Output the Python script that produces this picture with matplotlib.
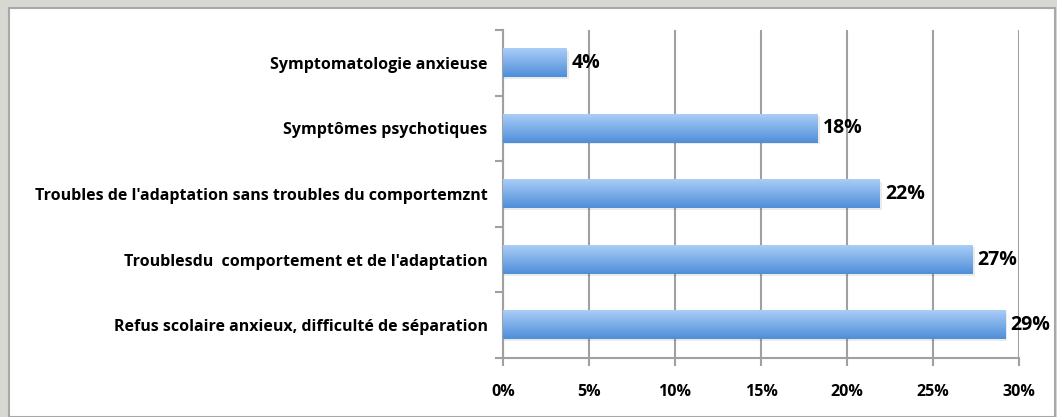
import numpy as np
import matplotlib.pyplot as plt
from matplotlib.patches import Rectangle
from matplotlib.colors import LinearSegmentedColormap

plt.rcParams['font.family'] = ['Open Sans', 'DejaVu Sans']

categories = [
    "Refus scolaire anxieux, difficulté de séparation",
    "Troublesdu  comportement et de l'adaptation",
    "Troubles de l'adaptation sans troubles du comportemznt",
    "Symptômes psychotiques",
    "Symptomatologie anxieuse",
]
values = [29.2, 27.3, 21.9, 18.3, 3.7]
value_labels = ["29%", "27%", "22%", "18%", "4%"]
xticks = [0, 5, 10, 15, 20, 25, 30]

fig = plt.figure(figsize=(10.57, 4.17), dpi=100)
fig.patch.set_facecolor('#d6d8d1')
# white panel
fig.patches.append(Rectangle((9 / 1057, 0), 1046 / 1057, 409 / 417,
                             transform=fig.transFigure, facecolor='white',
                             edgecolor='#a8a8a8', linewidth=1.5, zorder=-10))

ax = fig.add_axes([503 / 1057, 1 - 358 / 417, 516 / 1057, 328 / 417])
ax.set_facecolor('none')

cmap = LinearSegmentedColormap.from_list('bar', ['#4f8ed9', '#a9cdf7'])
grad = np.linspace(0, 1, 64).reshape(-1, 1)
h = 0.43
y = np.arange(len(categories))
for yi, v in zip(y, values):
    # light shadow
    ax.add_patch(Rectangle((0, yi - h / 2 - 0.03), v + 0.12, h, facecolor='#000000',
                           alpha=0.08, edgecolor='none', zorder=2))
    ax.imshow(grad, aspect='auto', cmap=cmap, origin='lower',
              extent=(0, v, yi - h / 2, yi + h / 2), zorder=3)
for yi, v, lab in zip(y, values, value_labels):
    ax.text(v + 0.3, yi, lab, va='center', ha='left', fontsize=14,
            fontweight='bold', color='black', zorder=4)

ax.set_xlim(0, 30)
ax.set_ylim(-0.5, len(categories) - 0.5)
ax.set_xticks(xticks)
ax.set_xticklabels([f"{t}%" for t in xticks], fontsize=11.5, fontweight='bold')
ax.set_yticks(y)
ax.set_yticklabels(categories, fontsize=11.5, fontweight='bold')
ax.set_yticks(np.arange(-0.5, len(categories)), minor=True)
ax.tick_params(axis='y', which='major', length=0, pad=11)
ax.tick_params(axis='y', which='minor', length=6, width=1.5, color='#a0a0a0')
ax.tick_params(axis='x', length=6, width=1.5, color='#a0a0a0', pad=13)

ax.grid(axis='x', color='#a0a0a0', linewidth=1.5, zorder=1)
ax.set_axisbelow(True)
for s in ['top', 'right']:
    ax.spines[s].set_visible(False)
for s in ['left', 'bottom']:
    ax.spines[s].set_color('#a0a0a0')
    ax.spines[s].set_linewidth(1.5)

fig.savefig('out.png', dpi=100, facecolor=fig.get_facecolor())
